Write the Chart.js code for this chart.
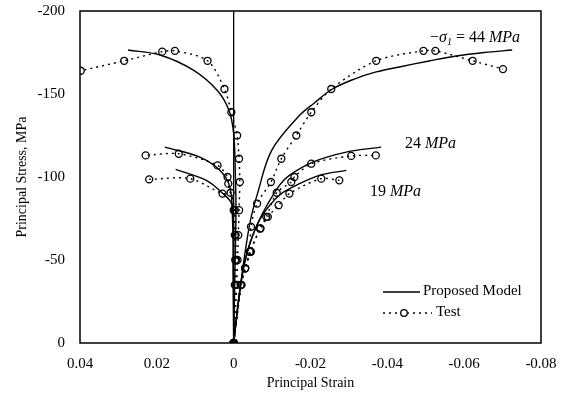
<!DOCTYPE html>
<html lang="en">
  <head>
    <meta charset="UTF-8" />
    <title>Principal Stress vs Principal Strain</title>
    <style>
      body {
        margin: 0;
        background: #fff;
      }
      #wrap {
        width: 565px;
        height: 405px;
      }
    </style>
  </head>
  <body>
    <div id="wrap"><canvas id="stressChart"></canvas></div>

    <script src="https://cdn.jsdelivr.net/npm/chart.js"></script>
    <script>
      // tick values
      const xTicks = [0.04, 0.02, 0, -0.02, -0.04, -0.06, -0.08];
      const yTicks = [0, -50, -100, -150, -200];

      // proposed model curves [strain, stress MPa]
      const model44L = [[0, 0], [-0.0003, -40], [-0.0006, -80], [-0.0004, -105], [0, -126], [0.0012, -140], [0.0042, -152], [0.0106, -164.5], [0.0192, -173.5], [0.0275, -176.5]];
      const model44R = [[0, 0], [-0.0018, -35], [-0.0042, -72], [-0.0062, -90], [-0.0099, -116], [-0.0171, -137], [-0.021, -144.6], [-0.0257, -153], [-0.0314, -159], [-0.0371, -163.3], [-0.0431, -166.3], [-0.0509, -169.9], [-0.0579, -172.9], [-0.0652, -175], [-0.0725, -176.5]];
      const model24L = [[0, 0], [0.0001, -40], [0.0003, -75], [0.001, -94], [0.0036, -104], [0.0088, -112], [0.0179, -118]];
      const model24R = [[0, 0], [-0.0015, -30], [-0.003, -50], [-0.005, -65], [-0.0075, -78], [-0.0119, -95], [-0.0145, -101], [-0.0206, -109], [-0.0293, -115], [-0.0384, -118]];
      const model19L = [[0, 0], [0.0001, -40], [0.0004, -83], [0.0028, -90], [0.0071, -98], [0.0151, -104.6]];
      const model19R = [[0, 0], [-0.0015, -30], [-0.003, -50], [-0.005, -65], [-0.0075, -77], [-0.0119, -89], [-0.0163, -95], [-0.0223, -101], [-0.0293, -104]];

      // test results [strain, stress MPa]
      const test44L = [[0, 0], [-0.0008, -35], [-0.001, -50], [-0.0012, -65], [-0.0014, -80], [-0.0016, -97], [-0.0014, -111], [-0.0009, -125], [0.0006, -139], [0.0024, -153], [0.0068, -170], [0.0153, -176], [0.0186, -175.5], [0.0285, -170], [0.0398, -164]];
      const test44R = [[0, 0], [-0.002, -35], [-0.003, -45], [-0.0042, -55], [-0.0045, -70], [-0.0061, -84], [-0.0097, -97], [-0.0124, -111], [-0.0163, -125], [-0.0202, -139], [-0.0254, -153], [-0.0371, -170], [-0.0494, -176], [-0.0525, -176], [-0.0622, -170], [-0.0701, -165]];
      const test24L = [[0, 0], [-0.0005, -35], [-0.0006, -50], [-0.0005, -65], [-0.0003, -80], [0.0014, -96], [0.0016, -100], [0.0042, -107], [0.0143, -114], [0.0229, -113]];
      const test24R = [[0, 0], [-0.002, -35], [-0.003, -45], [-0.0045, -55], [-0.0068, -69], [-0.0085, -76], [-0.0112, -90.5], [-0.015, -97], [-0.0158, -100], [-0.0202, -108], [-0.0306, -112.7], [-0.037, -113]];
      const test19L = [[0, 0], [-0.0003, -35], [-0.0004, -50], [-0.0003, -65], [0, -80], [0.0008, -90.5], [0.0029, -90], [0.0113, -99], [0.022, -98.6]];
      const test19R = [[0, 0], [-0.0018, -35], [-0.003, -45], [-0.0042, -55], [-0.007, -69], [-0.0089, -76], [-0.0117, -83], [-0.0145, -90], [-0.0228, -99], [-0.0275, -98]];
      const origin = [[0, 0]];

      const serif = "'Liberation Serif', 'Times New Roman', serif";

      function pts(arr) {
        return arr.map((p) => ({ x: p[0], y: p[1] }));
      }

      function modelSet(arr) {
        return {
          data: pts(arr),
          showLine: true,
          borderColor: "#000",
          borderWidth: 1.4,
          tension: 0.35,
          pointRadius: 0,
        };
      }

      function testSet(arr) {
        return {
          data: pts(arr),
          showLine: true,
          borderColor: "#000",
          borderWidth: 1.4,
          borderDash: [2, 4],
          tension: 0.3,
          pointRadius: 3.5,
          pointBorderWidth: 1.3,
          pointBorderColor: "#000",
          pointBackgroundColor: "rgba(0,0,0,0)",
        };
      }

      // frame, curve labels and legend
      const extras = {
        id: "extras",
        afterDraw(chart) {
          const { ctx, chartArea: a } = chart;
          ctx.save();
          ctx.strokeStyle = "#000";
          ctx.lineWidth = 1.5;
          ctx.strokeRect(a.left, a.top, a.right - a.left, a.bottom - a.top);

          ctx.fillStyle = "#000";
          ctx.textBaseline = "alphabetic";
          const write = (parts, x, y) => {
            for (const p of parts) {
              ctx.font = p.f;
              ctx.fillText(p.t, x, y + (p.dy || 0));
              x += ctx.measureText(p.t).width;
            }
          };
          const up = "16px " + serif;
          const it = "italic 16px " + serif;
          write([{ t: "\u2212", f: up }, { t: "\u03c3", f: it }, { t: "1", f: "italic 10px " + serif, dy: 3 }, { t: " = 44 ", f: up }, { t: "MPa", f: it }], 430, 42);
          write([{ t: "24 ", f: up }, { t: "MPa", f: it }], 405, 148);
          write([{ t: "19 ", f: up }, { t: "MPa", f: it }], 370, 196);

          // legend
          ctx.lineWidth = 1.4;
          ctx.beginPath();
          ctx.moveTo(383, 292);
          ctx.lineTo(420, 292);
          ctx.stroke();
          ctx.setLineDash([2, 4]);
          ctx.beginPath();
          ctx.moveTo(383, 313);
          ctx.lineTo(432, 313);
          ctx.stroke();
          ctx.setLineDash([]);
          ctx.fillStyle = "#fff";
          ctx.beginPath();
          ctx.arc(404, 313, 3.3, 0, Math.PI * 2);
          ctx.fill();
          ctx.lineWidth = 1.3;
          ctx.stroke();
          ctx.fillStyle = "#000";
          ctx.font = "15px " + serif;
          ctx.textBaseline = "middle";
          ctx.fillText("Proposed Model", 423, 291);
          ctx.fillText("Test", 436, 312);
          ctx.restore();
        },
      };

      new Chart(document.getElementById("stressChart"), {
        type: "scatter",
        data: {
          datasets: [
            modelSet(model44L),
            modelSet(model44R),
            modelSet(model24L),
            modelSet(model24R),
            modelSet(model19L),
            modelSet(model19R),
            testSet(test44L),
            testSet(test44R),
            testSet(test24L),
            testSet(test24R),
            testSet(test19L),
            testSet(test19R),
            {
              data: pts(origin),
              pointRadius: 4,
              pointBackgroundColor: "#000",
              pointBorderColor: "#000",
            },
          ],
        },
        options: {
          responsive: true,
          maintainAspectRatio: false,
          animation: false,
          layout: { padding: { left: 0, right: 24, top: 11, bottom: 0 } },
          plugins: {
            legend: { display: false },
            tooltip: { enabled: false },
          },
          scales: {
            x: {
              type: "linear",
              reverse: true,
              min: -0.08,
              max: 0.04,
              afterBuildTicks: (s) => {
                s.ticks = xTicks.map((v) => ({ value: v }));
              },
              afterFit: (s) => {
                s.height = 62;
                s.paddingLeft = 0;
                s.paddingRight = 0;
              },
              border: { display: false },
              grid: {
                drawTicks: false,
                color: (c) => (c.tick && c.tick.value === 0 ? "#000" : "rgba(0,0,0,0)"),
                lineWidth: 1.3,
              },
              ticks: {
                padding: 12,
                color: "#000",
                font: { family: serif, size: 15 },
                callback: (v) => String(v),
              },
              title: {
                display: true,
                text: "Principal Strain",
                color: "#000",
                font: { family: serif, size: 14 },
                padding: { top: 0, bottom: 13 },
              },
            },
            y: {
              type: "linear",
              reverse: true,
              min: -200,
              max: 0,
              afterBuildTicks: (s) => {
                s.ticks = yTicks.map((v) => ({ value: v }));
              },
              afterFit: (s) => {
                s.width = 80;
                s.paddingTop = 0;
                s.paddingBottom = 0;
              },
              border: { display: false },
              grid: { display: false, drawTicks: false },
              ticks: {
                padding: 15,
                color: "#000",
                font: { family: serif, size: 15 },
              },
              title: {
                display: true,
                text: "Principal Stress, MPa",
                color: "#000",
                font: { family: serif, size: 14 },
                padding: { top: 14, bottom: 0 },
              },
            },
          },
        },
        plugins: [extras],
      });
    </script>
  </body>
</html>
